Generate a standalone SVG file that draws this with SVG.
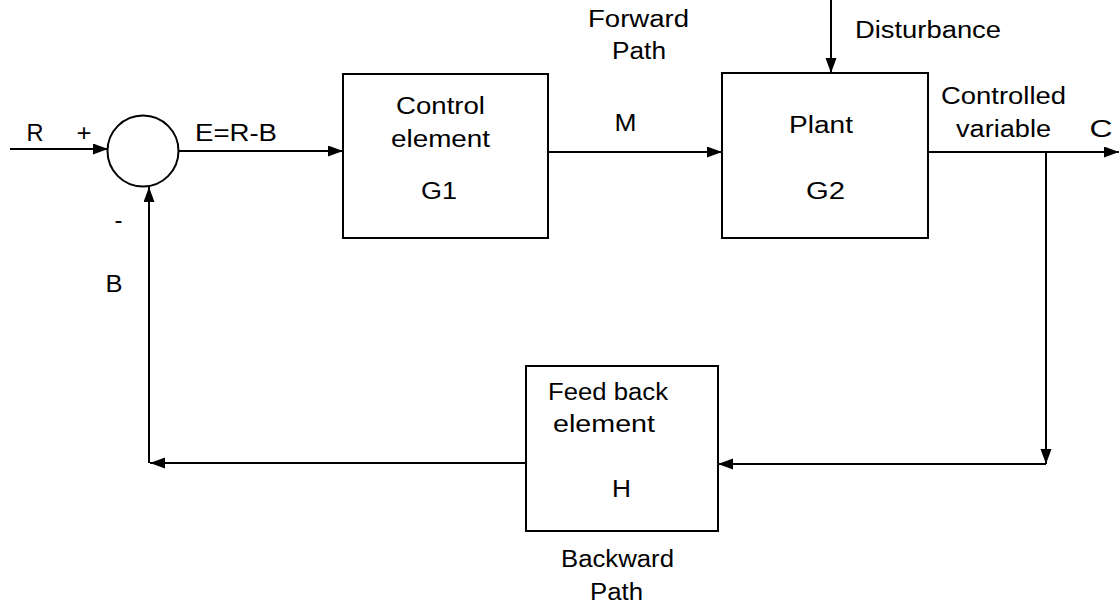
<svg xmlns="http://www.w3.org/2000/svg" width="1120" height="608" viewBox="0 0 1120 608">
  <style>
    .blk { fill: #ffffff; stroke: #000000; stroke-width: 2; }
    .wire { fill: none; stroke: #000000; stroke-width: 2; }
    text { font-family: "Liberation Sans", Arial, sans-serif; font-size: 23px; fill: #000000; text-anchor: middle; }
  </style>
  <defs>
    <marker id="arrow" markerUnits="userSpaceOnUse" markerWidth="16" markerHeight="12" refX="15" refY="5.5" orient="auto">
      <path d="M0,0 L15,5.5 L0,11 z" fill="#000000"/>
    </marker>
  </defs>
  <rect width="1120" height="608" fill="#ffffff"/>

  <!-- signal lines -->
  <g id="connectors">
    <path class="wire" d="M10,149 H108" marker-end="url(#arrow)"/>
    <path class="wire" d="M178,151 H343" marker-end="url(#arrow)"/>
    <path class="wire" d="M548,152 H722" marker-end="url(#arrow)"/>
    <path class="wire" d="M928,152 H1119" marker-end="url(#arrow)"/>
    <path class="wire" d="M831,0 V73" marker-end="url(#arrow)"/>
    <path class="wire" d="M1046,152 V464" marker-end="url(#arrow)"/>
    <path class="wire" d="M1046,464 H718" marker-end="url(#arrow)"/>
    <path class="wire" d="M526,463 H150" marker-end="url(#arrow)"/>
    <path class="wire" d="M149,463 V187" marker-end="url(#arrow)"/>
  </g>

  <!-- summing junction -->
  <g id="summer">
    <circle class="blk" cx="143" cy="151" r="35.5"/>
  </g>

  <g id="control-element">
    <rect class="blk" x="343" y="74" width="205" height="164"/>
    <text x="440.5" y="114" textLength="89" lengthAdjust="spacingAndGlyphs">Control</text>
    <text x="440.5" y="147" textLength="99" lengthAdjust="spacingAndGlyphs">element</text>
    <text x="439" y="199" textLength="36" lengthAdjust="spacingAndGlyphs">G1</text>
  </g>

  <g id="plant">
    <rect class="blk" x="722" y="73" width="206" height="165"/>
    <text x="821" y="133" textLength="64" lengthAdjust="spacingAndGlyphs">Plant</text>
    <text x="825.5" y="199" textLength="39" lengthAdjust="spacingAndGlyphs">G2</text>
  </g>

  <g id="feedback-element">
    <rect class="blk" x="526" y="366" width="192" height="165"/>
    <text x="608" y="400" textLength="120" lengthAdjust="spacingAndGlyphs">Feed back</text>
    <text x="604" y="432" textLength="102" lengthAdjust="spacingAndGlyphs">element</text>
    <text x="621.5" y="497" textLength="19" lengthAdjust="spacingAndGlyphs">H</text>
  </g>

  <!-- signal and path labels -->
  <g id="labels">
    <text x="35" y="141" textLength="17" lengthAdjust="spacingAndGlyphs">R</text>
    <text x="84" y="141" textLength="15" lengthAdjust="spacingAndGlyphs">+</text>
    <text x="236" y="141" textLength="82" lengthAdjust="spacingAndGlyphs">E=R-B</text>
    <text x="118.5" y="228" textLength="8" lengthAdjust="spacingAndGlyphs">-</text>
    <text x="114" y="292" textLength="17" lengthAdjust="spacingAndGlyphs">B</text>
    <text x="638.5" y="27" textLength="101" lengthAdjust="spacingAndGlyphs">Forward</text>
    <text x="639" y="59" textLength="54" lengthAdjust="spacingAndGlyphs">Path</text>
    <text x="625.5" y="131" textLength="22" lengthAdjust="spacingAndGlyphs">M</text>
    <text x="928" y="38" textLength="146" lengthAdjust="spacingAndGlyphs">Disturbance</text>
    <text x="1003.5" y="104" textLength="125" lengthAdjust="spacingAndGlyphs">Controlled</text>
    <text x="1003.5" y="137" textLength="95" lengthAdjust="spacingAndGlyphs">variable</text>
    <text x="1101" y="137" textLength="23" lengthAdjust="spacingAndGlyphs">C</text>
    <text x="617.5" y="567" textLength="113" lengthAdjust="spacingAndGlyphs">Backward</text>
    <text x="616.5" y="600" textLength="53" lengthAdjust="spacingAndGlyphs">Path</text>
  </g>
</svg>
